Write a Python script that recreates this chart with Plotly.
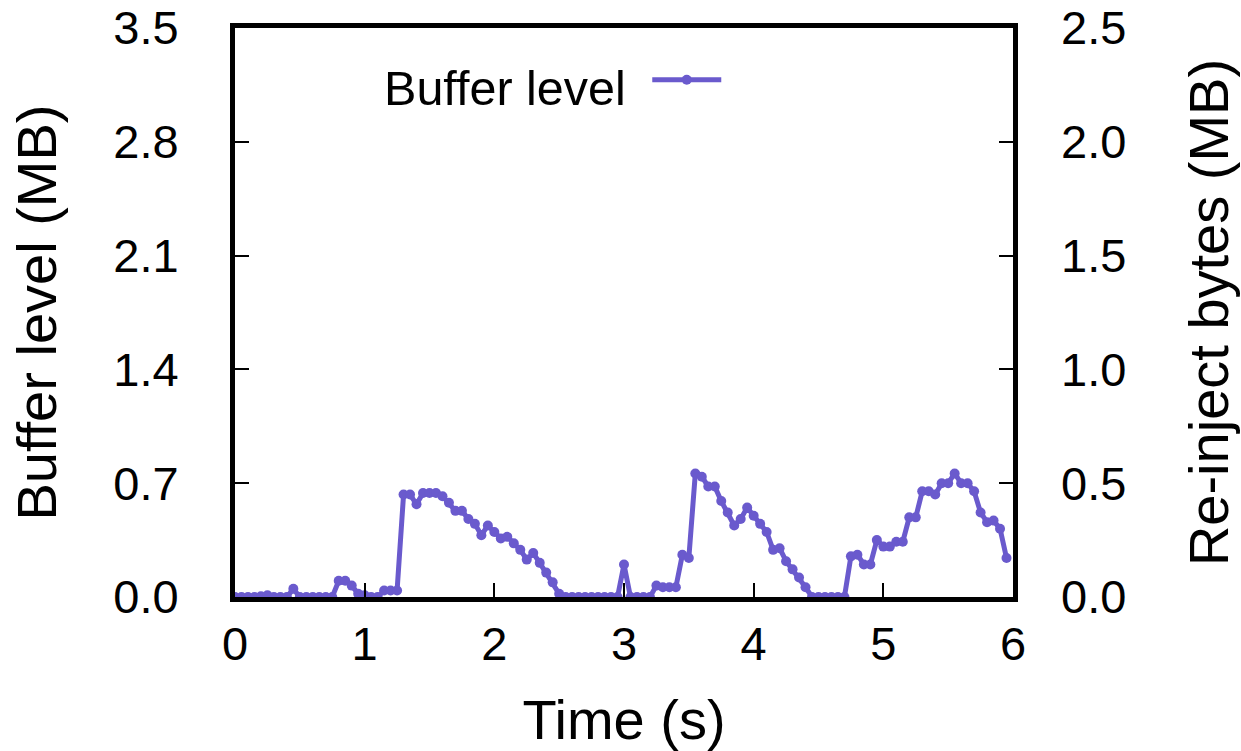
import plotly.graph_objects as go

time_s = [0.00, 0.05, 0.10, 0.15, 0.20, 0.25, 0.30, 0.35, 0.40, 0.45,
          0.50, 0.55, 0.60, 0.65, 0.70, 0.75, 0.80, 0.85, 0.90, 0.95,
          1.00, 1.05, 1.10, 1.15, 1.20, 1.25, 1.30, 1.35, 1.40, 1.45,
          1.50, 1.55, 1.60, 1.65, 1.70, 1.75, 1.80, 1.85, 1.90, 1.95,
          2.00, 2.05, 2.10, 2.15, 2.20, 2.25, 2.30, 2.35, 2.40, 2.45,
          2.50, 2.55, 2.60, 2.65, 2.70, 2.75, 2.80, 2.85, 2.90, 2.95,
          3.00, 3.05, 3.10, 3.15, 3.20, 3.25, 3.30, 3.35, 3.40, 3.45,
          3.50, 3.55, 3.60, 3.65, 3.70, 3.75, 3.80, 3.85, 3.90, 3.95,
          4.00, 4.05, 4.10, 4.15, 4.20, 4.25, 4.30, 4.35, 4.40, 4.45,
          4.50, 4.55, 4.60, 4.65, 4.70, 4.75, 4.80, 4.85, 4.90, 4.95,
          5.00, 5.05, 5.10, 5.15, 5.20, 5.25, 5.30, 5.35, 5.40, 5.45,
          5.50, 5.55, 5.60, 5.65, 5.70, 5.75, 5.80, 5.85, 5.90, 5.95]

buffer_mb = [0.00, 0.00, 0.00, 0.00, 0.005, 0.01, 0.00, 0.00, 0.00, 0.05,
             0.00, 0.00, 0.00, 0.00, 0.00, 0.00, 0.10, 0.10, 0.07, 0.02,
             0.01, 0.00, 0.00, 0.04, 0.04, 0.04, 0.63, 0.63, 0.57, 0.64,
             0.64, 0.64, 0.62, 0.58, 0.53, 0.53, 0.48, 0.45, 0.38, 0.44,
             0.40, 0.36, 0.37, 0.33, 0.29, 0.23, 0.27, 0.21, 0.15, 0.09,
             0.02, 0.00, 0.00, 0.00, 0.00, 0.00, 0.00, 0.00, 0.00, 0.00,
             0.20, 0.00, 0.00, 0.00, 0.00, 0.07, 0.06, 0.06, 0.06, 0.26,
             0.24, 0.76, 0.74, 0.68, 0.68, 0.59, 0.52, 0.44, 0.48, 0.55,
             0.50, 0.45, 0.40, 0.29, 0.30, 0.22, 0.17, 0.12, 0.06, 0.00,
             0.00, 0.00, 0.00, 0.00, 0.00, 0.25, 0.26, 0.20, 0.20, 0.35,
             0.31, 0.31, 0.34, 0.34, 0.49, 0.49, 0.65, 0.65, 0.63, 0.70,
             0.70, 0.76, 0.70, 0.70, 0.65, 0.52, 0.46, 0.47, 0.42, 0.24]

x_ticks = [0, 1, 2, 3, 4, 5, 6]
y_ticks = [0.0, 0.7, 1.4, 2.1, 2.8, 3.5]
y2_ticks = [0.0, 0.5, 1.0, 1.5, 2.0, 2.5]

color = "#6a5acd"
font_family = "Liberation Sans, Arial, sans-serif"
fs = 47

fig = go.Figure()
fig.add_trace(go.Scatter(
    x=time_s, y=buffer_mb, mode="lines+markers", name="",
    line=dict(color=color, width=5),
    marker=dict(color=color, size=10),
    showlegend=True,
))
# empty trace so the right-hand axis is drawn
fig.add_trace(go.Scatter(x=[], y=[], yaxis="y2", showlegend=False, hoverinfo="skip"))

common = dict(ticks="inside", ticklen=14, tickwidth=2, tickcolor="black",
              showgrid=False, zeroline=False, automargin=False,
              ticklabeloverflow="allow", tickfont=dict(size=fs))

fig.update_layout(
    width=1241, height=751,
    margin=dict(l=235, r=228, t=28, b=154),
    paper_bgcolor="white", plot_bgcolor="white",
    font=dict(family=font_family, size=fs, color="black"),
    showlegend=True,
    legend=dict(
        x=0.189, y=0.976, xanchor="left", yanchor="top",
        bgcolor="rgba(0,0,0,0)", borderwidth=0,
        title=dict(text="Buffer level\u00a0", side="left", font=dict(size=48.5)),
        font=dict(size=48.5),
        itemwidth=69,
    ),
    xaxis=dict(
        range=[0, 6], tickvals=x_ticks, ticktext=[str(v) for v in x_ticks],
        showline=True, linewidth=5, linecolor="black", mirror=True,
        title=dict(text="Time (s)", standoff=46),
        ticklabelstandoff=2,
        **common,
    ),
    yaxis=dict(
        range=[0, 3.5], tickvals=y_ticks, ticktext=[f"{v:.1f}" for v in y_ticks],
        showline=True, linewidth=5, linecolor="black", mirror=True,
        title=dict(text="Buffer level (MB)", standoff=40),
        ticklabelstandoff=42,
        **common,
    ),
    yaxis2=dict(
        range=[0, 2.5], tickvals=y2_ticks, ticktext=[f"{v:.1f}" for v in y2_ticks],
        overlaying="y", side="right", showline=False,
        title=dict(text="Re-inject bytes (MB)", standoff=63),
        ticklabelstandoff=47,
        **common,
    ),
)

fig.write_html("out.html", config={"displayModeBar": False},
               post_script="document.body.style.margin='0';")
